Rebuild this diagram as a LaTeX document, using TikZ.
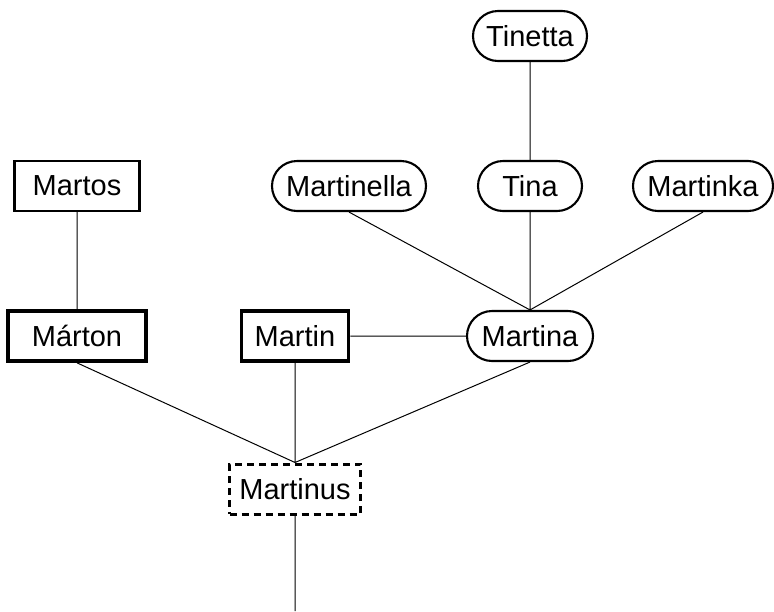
\documentclass[tikz,border=0pt]{standalone}
\usepackage{fontspec}
\setmainfont{Liberation Sans}
\usepackage{tikz}
\usetikzlibrary{positioning}

\newcommand{\namefont}{\fontsize{29}{34}\selectfont}

\begin{document}
\begin{tikzpicture}[x=1pt,y=-1pt,node distance=150pt,on grid,
    every node/.style={font=\namefont, inner sep=0pt, minimum height=50pt},
    plain/.style={draw, line width=2.1pt},
    strong/.style={draw, line width=3.7pt},
    pill/.style={draw, line width=2.1pt, rounded corners=25pt},
    guess/.style={draw, line width=3pt, dash pattern=on 7pt off 5pt},
    link/.style={line width=1pt}]
    \useasboundingbox (0,0) rectangle (774,611);
    \node [guess, minimum width=131pt] (martinus) at (295,489) {Martinus};
    \node [strong, minimum width=138pt] (marton) at (77,336) {Márton};
    \node [strong, minimum width=107pt] (martin) at (295,336) {Martin};
    \node [pill, minimum width=126pt] (martina) at (530,336) {Martina};
    \node [plain, minimum width=125pt] [above=of marton] (martos) {Martos};
    \node [pill, minimum width=104pt] [above=of martina] (tina) {Tina};
    \node [pill, minimum width=114pt] [above=of tina] (tinetta) {Tinetta};
    \node [pill, minimum width=154pt] (martinella) at (349,186) {Martinella};
    \node [pill, minimum width=140pt] (martinka) at (703,186) {Martinka};
    \coordinate (root) at (295,611);
    \draw [link]
        (martinus) -- (root)
        (marton.south) -- (martinus.north)
        (martin) -- (martinus)
        (martina.south) -- (martinus.north)
        (martin) -- (martina)
        (martos) -- (marton)
        (martinella.south) -- (martina.north)
        (tina) -- (martina)
        (martinka.south) -- (martina.north)
        (tinetta) -- (tina);
\end{tikzpicture}
\end{document}
